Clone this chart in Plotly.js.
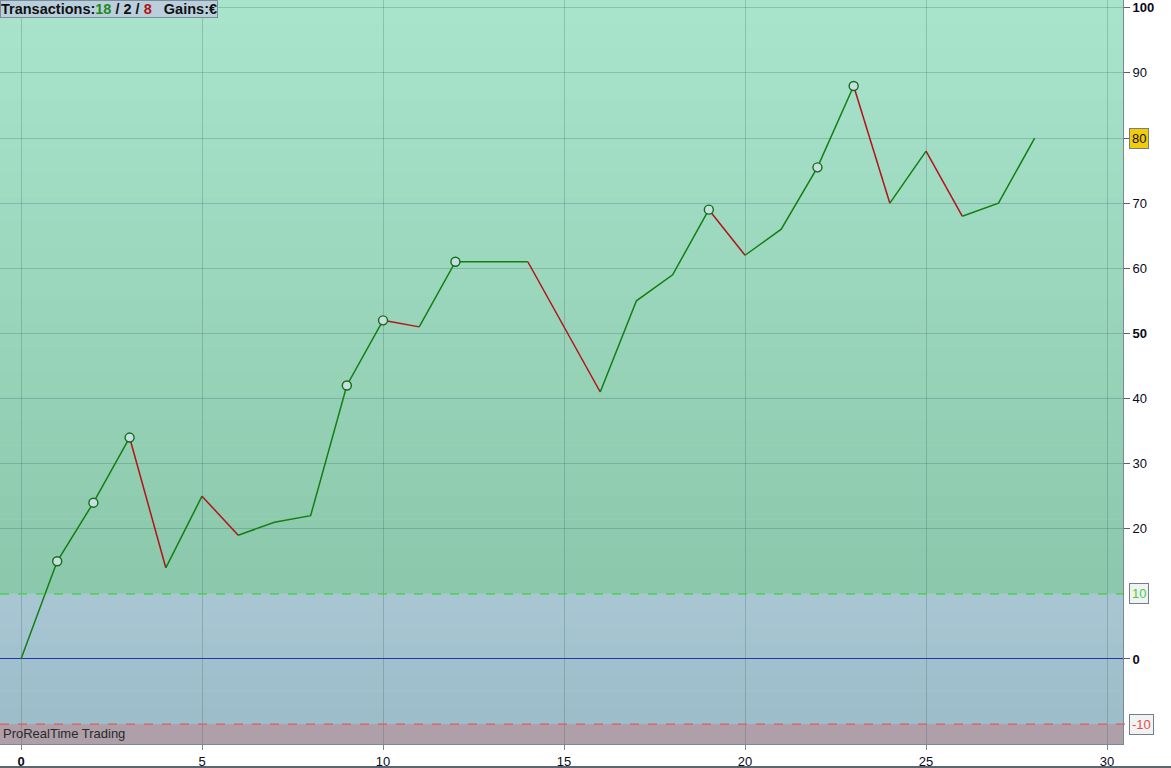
<!DOCTYPE html>
<html>
<head>
<meta charset="utf-8">
<script src="https://cdn.plot.ly/plotly-3.0.1.min.js"></script>
<style>
  html, body { margin: 0; padding: 0; background: #fff; }
  #chart { width: 1171px; height: 768px; }
</style>
</head>
<body>
<div id="chart"></div>
<script>
/* ---------- data ---------- */
const tradeIndex = [0,1,2,3,4,5,6,7,8,9,10,11,12,13,14,15,16,17,18,19,20,21,22,23,24,25,26,27,28];
const equity = [0,15,24,34,14,25,19,21,22,42,52,51,61,61,61,51,41,55,59,69,62,66,75.5,88,70,78,68,70,80];
const markedIdx = [1,2,3,9,10,12,19,22,23];

const yTickVals = [100,90,80,70,60,50,40,30,20,0];
const yTickText = ["<b>100</b>","90","","70","60","<b>50</b>","40","30","20","<b>0</b>"];
const xTickVals = [0,5,10,15,20,25,30];
const xTickText = ["<b>0</b>","5","10","15","20","25","30"];

const upperLevel = 10;
const lowerLevel = -10;
const lastValue = 80;
const winCount = 18, flatCount = 2, lossCount = 8;

/* ---------- helpers ---------- */
const GREEN = "#127f12";
const RED = "#b3121a";
const FONT = "Liberation Sans, Arial, sans-serif";

function mix(a, b, t) {
  const pa = a.match(/\w\w/g).map((h) => parseInt(h, 16));
  const pb = b.match(/\w\w/g).map((h) => parseInt(h, 16));
  const c = pa.map((v, i) => Math.round(v + (pb[i] - v) * t));
  return `rgb(${c[0]},${c[1]},${c[2]})`;
}

function bands(y0, y1, cTop, cBot, n) {
  const out = [];
  for (let i = 0; i < n; i++) {
    const a = y1 - (y1 - y0) * i / n;
    const b = y1 - (y1 - y0) * (i + 1) / n;
    out.push({
      type: "rect", layer: "below", xref: "paper", yref: "y",
      x0: 0, x1: 1, y0: b, y1: a,
      fillcolor: mix(cTop, cBot, (i + 0.5) / n),
      line: { width: 0 },
    });
  }
  return out;
}

// split the equity curve into runs of rising / falling segments
function segmentTraces() {
  const traces = [];
  let cur = null;
  for (let i = 0; i < equity.length - 1; i++) {
    const color = equity[i + 1] < equity[i] ? RED : GREEN;
    if (!cur || cur.line.color !== color) {
      cur = {
        x: [tradeIndex[i]], y: [equity[i]],
        mode: "lines", type: "scatter", hoverinfo: "skip",
        line: { color: color, width: 1.5 },
        showlegend: false,
      };
      traces.push(cur);
    }
    cur.x.push(tradeIndex[i + 1]);
    cur.y.push(equity[i + 1]);
  }
  return traces;
}

/* ---------- traces ---------- */
const traces = segmentTraces();
traces.push({
  x: markedIdx.map((i) => tradeIndex[i]),
  y: markedIdx.map((i) => equity[i]),
  mode: "markers", type: "scatter", hoverinfo: "skip", showlegend: false,
  marker: { size: 9, color: "#c9dde6", line: { color: "#0f700f", width: 1.4 } },
});

/* ---------- shapes ---------- */
const yTop = 101.2, yBot = -13.06;
const shapes = []
  .concat(bands(upperLevel, yTop, "a9e5cd", "8bc7aa", 24))
  .concat(bands(lowerLevel, upperLevel, "a9c6d3", "9bbcc9", 8))
  .concat([{
    type: "rect", layer: "below", xref: "paper", yref: "y",
    x0: 0, x1: 1, y0: yBot, y1: lowerLevel,
    fillcolor: "#ae9fa8", line: { width: 0 },
  }])
  .concat([
    { type: "line", xref: "paper", yref: "y", x0: 0, x1: 1, y0: upperLevel, y1: upperLevel,
      line: { color: "#3ad23a", width: 1.3, dash: "dash" } },
    { type: "line", xref: "paper", yref: "y", x0: 0, x1: 1.006, y0: lowerLevel, y1: lowerLevel,
      line: { color: "#e65a5a", width: 1.3, dash: "dash" } },
    { type: "line", xref: "paper", yref: "paper", x0: 0, x1: 1.043, y0: -0.031, y1: -0.031,
      line: { color: "#5a6670", width: 2 } },
  ]);

/* ---------- annotations ---------- */
function sideBox(y, text, color, bg) {
  return {
    xref: "paper", yref: "y", x: 1.005, y: y, xanchor: "left", yanchor: "middle",
    showarrow: false, text: text,
    font: { family: FONT, size: 13, color: color },
    bgcolor: bg, bordercolor: "#6f7f8c", borderwidth: 1, borderpad: 2,
  };
}

const annotations = [
  {
    xref: "paper", yref: "paper", x: 0, y: 1, xanchor: "left", yanchor: "top",
    showarrow: false, align: "left",
    text: `<b>Transactions:<span style="color:#1f8a1f">${winCount}</span> / ${flatCount} / <span style="color:#b01515">${lossCount}</span>   Gains:€</b>`,
    font: { family: FONT, size: 14.5, color: "#111" },
    bgcolor: "#b9cfdc", bordercolor: "#7b8c98", borderwidth: 1, borderpad: 0,
  },
  {
    xref: "paper", yref: "paper", x: 0.001, y: 0.002, xanchor: "left", yanchor: "bottom",
    showarrow: false, text: "ProRealTime Trading",
    font: { family: FONT, size: 13, color: "#2a2a2a" },
  },
  sideBox(lastValue, String(lastValue), "#111", "#f2cc08"),
  sideBox(upperLevel, String(upperLevel), "#44cc44", "#f2f2f2"),
  sideBox(lowerLevel, String(lowerLevel), "#e05050", "#f2f2f2"),
];

/* ---------- layout ---------- */
const layout = {
  width: 1171,
  height: 768,
  margin: { l: 0, r: 48, t: 0, b: 24, pad: 0 },
  paper_bgcolor: "#ffffff",
  plot_bgcolor: "#a0d6c0",
  showlegend: false,
  font: { family: FONT, size: 13, color: "#0a0a20" },
  xaxis: {
    range: [-0.58, 30.44],
    tickmode: "array", tickvals: xTickVals, ticktext: xTickText,
    ticks: "outside", ticklen: 5, tickcolor: "#7a8a94",
    showgrid: true, gridcolor: "rgba(70,110,105,0.3)", gridwidth: 1,
    zeroline: false,
    showline: true, linecolor: "#7a8a94", linewidth: 1,
    fixedrange: true,
  },
  yaxis: {
    side: "right",
    range: [yBot, yTop],
    tickmode: "array", tickvals: yTickVals, ticktext: yTickText,
    ticks: "outside", ticklen: 6, tickcolor: "#55606a",
    showgrid: true, gridcolor: "rgba(70,110,105,0.3)", gridwidth: 1,
    zeroline: true, zerolinecolor: "#2433b0", zerolinewidth: 1,
    showline: true, linecolor: "#7a8a94", linewidth: 1,
    fixedrange: true,
  },
  shapes: shapes,
  annotations: annotations,
};

Plotly.newPlot("chart", traces, layout, { displayModeBar: false, staticPlot: true });
</script>
</body>
</html>
